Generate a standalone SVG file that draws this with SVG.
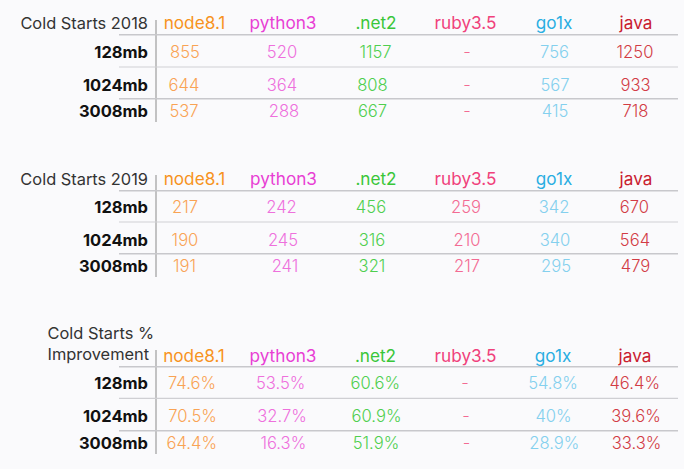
<svg xmlns="http://www.w3.org/2000/svg" width="684" height="469" viewBox="0 0 684 469">
<style>
text{font-family:Inter,"Noto Sans","Liberation Sans",sans-serif;font-size:16.4px}
.t{fill:#333;font-weight:400;text-anchor:end}
.tl{fill:#333;font-weight:400;text-anchor:start}
.r{fill:#111;font-weight:700;text-anchor:end;font-size:16.5px}
.h{font-weight:400;text-anchor:middle;font-size:17.2px}
.v{font-weight:300;text-anchor:middle;font-size:16.6px}
.vl{stroke:#8a8a8a;stroke-width:1}
.hl{stroke:#c8c8cc;stroke-width:1.5}
.rl{stroke:#cfcfd3;stroke-width:1.2}
.c1{fill:#f7931e}.d1{fill:#f9a354}
.c2{fill:#e83fd4}.d2{fill:#ee70dc}
.c3{fill:#39c639}.d3{fill:#4fcf4f}
.c4{fill:#f0417b}.d4{fill:#f36b93}
.c5{fill:#2aaee2}.d5{fill:#84d0ee}
.c6{fill:#c9202f}.d6{fill:#d23c45}
</style>
<rect width="684" height="469" fill="#fafafc"/>
<g id="lines">
<line class="vl" x1="156" y1="20" x2="156" y2="122"/>
<line class="hl" x1="119" y1="34.7" x2="678" y2="34.7"/>
<line class="rl" x1="119" y1="67" x2="678" y2="67"/>
<line class="hl" x1="119" y1="98.7" x2="678" y2="98.7"/>
<line class="vl" x1="156" y1="175" x2="156" y2="277"/>
<line class="hl" x1="119" y1="190.7" x2="678" y2="190.7"/>
<line class="rl" x1="119" y1="222" x2="678" y2="222"/>
<line class="hl" x1="119" y1="253.7" x2="678" y2="253.7"/>
<line class="vl" x1="156" y1="350" x2="156" y2="454"/>
<line class="hl" x1="119" y1="366.7" x2="678" y2="366.7"/>
<line class="rl" x1="119" y1="398.3" x2="678" y2="398.3"/>
<line class="hl" x1="119" y1="430.7" x2="678" y2="430.7"/>
</g>
<g id="table2018">
<text class="t" x="148" y="29">Cold Starts 2018</text>
<text class="h c1" x="194.5" y="29">node8.1</text>
<text class="h c2" x="283" y="29">python3</text>
<text class="h c3" x="376" y="29">.net2</text>
<text class="h c4" x="465.5" y="29">ruby3.5</text>
<text class="h c5" x="554" y="29">go1x</text>
<text class="h c6" x="636" y="29">java</text>
<text class="r" x="148" y="58">128mb</text>
<text class="r" x="148" y="90.5">1024mb</text>
<text class="r" x="148" y="116.7">3008mb</text>
<text class="v d1" x="185" y="58">855</text>
<text class="v d1" x="184" y="90.5">644</text>
<text class="v d1" x="184" y="116.7">537</text>
<text class="v d2" x="282" y="58">520</text>
<text class="v d2" x="282" y="90.5">364</text>
<text class="v d2" x="284" y="116.7">288</text>
<text class="v d3" x="375.5" y="58">1157</text>
<text class="v d3" x="372.5" y="90.5">808</text>
<text class="v d3" x="372.5" y="116.7">667</text>
<text class="v d4" x="467" y="58">-</text>
<text class="v d4" x="467" y="90.5">-</text>
<text class="v d4" x="467" y="116.7">-</text>
<text class="v d5" x="554.5" y="58">756</text>
<text class="v d5" x="555" y="90.5">567</text>
<text class="v d5" x="555" y="116.7">415</text>
<text class="v d6" x="635" y="58">1250</text>
<text class="v d6" x="635.5" y="90.5">933</text>
<text class="v d6" x="635.5" y="116.7">718</text>
</g>
<g id="table2019">
<text class="t" x="148" y="185">Cold Starts 2019</text>
<text class="h c1" x="194.5" y="185">node8.1</text>
<text class="h c2" x="283.5" y="185">python3</text>
<text class="h c3" x="376" y="185">.net2</text>
<text class="h c4" x="465.5" y="185">ruby3.5</text>
<text class="h c5" x="554" y="185">go1x</text>
<text class="h c6" x="636" y="185">java</text>
<text class="r" x="148" y="212.7">128mb</text>
<text class="r" x="148" y="246">1024mb</text>
<text class="r" x="148" y="271.7">3008mb</text>
<text class="v d1" x="185" y="212.7">217</text>
<text class="v d1" x="185" y="246">190</text>
<text class="v d1" x="184.5" y="271.7">191</text>
<text class="v d2" x="281.5" y="212.7">242</text>
<text class="v d2" x="283" y="246">245</text>
<text class="v d2" x="285" y="271.7">241</text>
<text class="v d3" x="371" y="212.7">456</text>
<text class="v d3" x="372" y="246">316</text>
<text class="v d3" x="372" y="271.7">321</text>
<text class="v d4" x="466" y="212.7">259</text>
<text class="v d4" x="467" y="246">210</text>
<text class="v d4" x="467" y="271.7">217</text>
<text class="v d5" x="554" y="212.7">342</text>
<text class="v d5" x="555" y="246">340</text>
<text class="v d5" x="556" y="271.7">295</text>
<text class="v d6" x="634.5" y="212.7">670</text>
<text class="v d6" x="635" y="246">564</text>
<text class="v d6" x="635.5" y="271.7">479</text>
</g>
<g id="tableImprovement">
<text class="tl" x="47.5" y="339.3">Cold Starts %</text>
<text class="tl" x="47.5" y="360">Improvement</text>
<text class="h c1" x="194" y="361.7">node8.1</text>
<text class="h c2" x="283" y="361.7">python3</text>
<text class="h c3" x="375.5" y="361.7">.net2</text>
<text class="h c4" x="465.5" y="361.7">ruby3.5</text>
<text class="h c5" x="553" y="361.7">go1x</text>
<text class="h c6" x="635" y="361.7">java</text>
<text class="r" x="148" y="389">128mb</text>
<text class="r" x="148" y="421.7">1024mb</text>
<text class="r" x="148" y="449">3008mb</text>
<text class="v d1" x="192" y="389">74.6%</text>
<text class="v d1" x="192.5" y="421.7">70.5%</text>
<text class="v d1" x="191.7" y="449">64.4%</text>
<text class="v d2" x="280.7" y="389">53.5%</text>
<text class="v d2" x="282" y="421.7">32.7%</text>
<text class="v d2" x="283.3" y="449">16.3%</text>
<text class="v d3" x="375.3" y="389">60.6%</text>
<text class="v d3" x="376.5" y="421.7">60.9%</text>
<text class="v d3" x="376" y="449">51.9%</text>
<text class="v d4" x="465" y="389">-</text>
<text class="v d4" x="466" y="421.7">-</text>
<text class="v d4" x="466.5" y="449">-</text>
<text class="v d5" x="553" y="389">54.8%</text>
<text class="v d5" x="553.5" y="421.7">40%</text>
<text class="v d5" x="554.3" y="449">28.9%</text>
<text class="v d6" x="634.7" y="389">46.4%</text>
<text class="v d6" x="636" y="421.7">39.6%</text>
<text class="v d6" x="636.5" y="449">33.3%</text>
</g>
</svg>
